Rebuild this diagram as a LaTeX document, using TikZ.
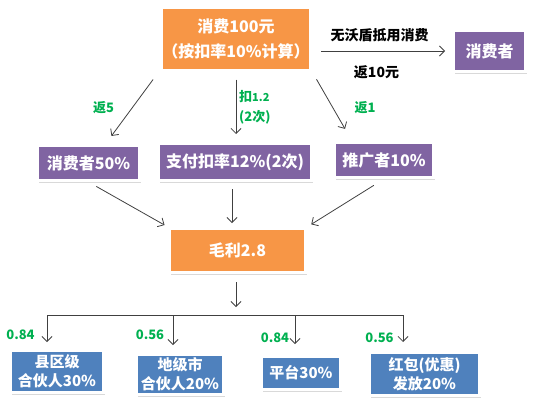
\documentclass[tikz,border=0pt]{standalone}
\usepackage{fontspec}
\setmainfont{Noto Sans CJK SC}
\usepackage{xcolor}
\usepackage{tikz}
\usetikzlibrary{arrows.meta,positioning,shadows}

\definecolor{boxorange}{HTML}{F79646}
\definecolor{boxpurple}{HTML}{8064A2}
\definecolor{boxblue}{HTML}{4F81BD}
\definecolor{labgreen}{HTML}{00B050}

\begin{document}
\begin{tikzpicture}[
  x=1pt, y=-1pt,
  box/.style={draw=white, line width=3pt, inner sep=0pt, align=center, text=white,
    font=\bfseries\fontsize{16}{25}\selectfont,
    drop shadow={opacity=0.3, shadow xshift=1pt, shadow yshift=-2pt}},
  small/.style={box, font=\bfseries\fontsize{15}{19}\selectfont},
  glab/.style={text=labgreen, font=\bfseries\fontsize{13}{20}\selectfont, inner sep=0pt},
  blab/.style={font=\bfseries\fontsize{14}{16}\selectfont, inner sep=0pt},
  arrow/.style={-{Straight Barb[length=5pt,width=10pt]}, line width=0.8pt, draw=black!75}
]
\useasboundingbox (0,0) rectangle (534,407);

% top row
\node[box, fill=boxorange, minimum width=149pt, minimum height=63pt] (spend) at (236,38.5) {消费100元\\（按扣率10\%计算）};
\node[box, fill=boxpurple, minimum width=72pt, minimum height=41pt] (buyer) at (489.5,51) {消费者};

% second row
\node[box, fill=boxpurple, minimum width=102pt, minimum height=35pt] (buyer50) at (88.5,163) {消费者50\%};
\node[box, fill=boxpurple, minimum width=153pt, minimum height=37pt] (fee) at (235,162) {支付扣率12\%(2次)};
\node[box, fill=boxpurple, minimum width=99pt, minimum height=35pt] (promo) at (384,160) {推广者10\%};

% gross profit
\node[box, fill=boxorange, minimum width=136pt, minimum height=44pt] (profit) at (237.5,250.5) {毛利2.8};

% bottom row
\node[small, fill=boxblue, minimum width=93pt, minimum height=42pt] (county) at (57,371.5) {县区级\\合伙人30\%};
\node[small, fill=boxblue, minimum width=87pt, minimum height=40pt] (city) at (180,374.5) {地级市\\合伙人20\%};
\node[small, fill=boxblue, minimum width=79pt, minimum height=33pt] (platform) at (301,373) {平台30\%};
\node[small, fill=boxblue, minimum width=110pt, minimum height=43pt] (redpack) at (424.5,374) {红包(优惠)\\发放20\%};

% labels
\node[blab] (deduct) at (379.5,35) {无沃盾抵用消费};
\node[blab] (back10) at (376.5,72) {返10元};
\node[glab] (back5) at (103.5,107.5) {返5};
\node[glab, align=left, anchor=west] (fee12) at (239,107) {扣{\fontsize{11}{12}\selectfont 1.2}\\(2次)};
\node[glab] (back1) at (365,107.5) {返1};
\node[glab] (v1) at (20.5,334.5) {0.84};
\node[glab] (v2) at (150,335) {0.56};
\node[glab] (v3) at (275,338) {0.84};
\node[glab] (v4) at (379.5,338) {0.56};

\draw[arrow, shorten <=9pt, shorten >=7pt] (spend.east |- buyer.west) -- (buyer.west);
\draw[arrow, shorten <=10pt, shorten >=10pt] ([xshift=-1pt]spend.south west) -- ([xshift=17pt]buyer50.north);
\draw[arrow, shorten <=8pt, shorten >=8pt] (spend.south) -- (spend.south |- fee.north);
\draw[arrow, shorten <=9pt, shorten >=14pt] (spend.south east) -- ([xshift=-32pt]promo.north);

\draw[arrow, shorten <=9pt, shorten >=4pt] (buyer50.south) -- (profit.north west);
\draw[arrow, shorten <=7pt, shorten >=4pt] ([xshift=-3pt]fee.south) -- ([xshift=-3pt]fee.south |- profit.north);
\draw[arrow, shorten <=12pt, shorten >=5pt] (promo.south) -- (profit.north east);

\coordinate (bus) at (236,315);
\coordinate (d1) at (47,315);
\coordinate (d2) at (173,315);
\coordinate (d3) at (295,315);
\coordinate (d4) at (403,315);
\draw[arrow, shorten <=8pt, shorten >=8pt] ([xshift=-1.5pt]profit.south) -- (bus);
\draw[line width=0.8pt, draw=black!75] (d1) -- (d4);
\draw[arrow, shorten >=7pt] (d1) -- (d1 |- county.north);
\draw[arrow, shorten >=8pt] (d2) -- (d2 |- city.north);
\draw[arrow, shorten >=11pt] (d3) -- (d3 |- platform.north);
\draw[arrow, shorten >=9pt] (d4) -- (d4 |- redpack.north);
\end{tikzpicture}
\end{document}
